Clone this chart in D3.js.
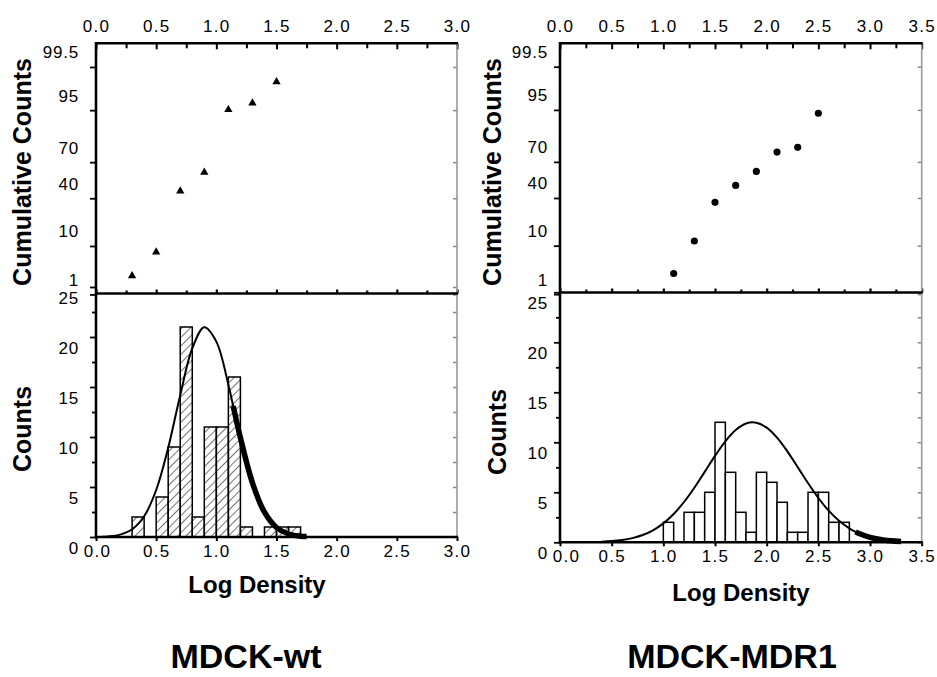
<!DOCTYPE html>
<html>
<head>
<meta charset="utf-8">
<script src="https://cdn.jsdelivr.net/npm/d3@7"></script>
<style>
  body { margin: 0; background: #fff; }
  text { font-family: "Liberation Sans", Arial, sans-serif; fill: #000; }
</style>
</head>
<body>
<script>
// cumulative (probability axis) points
var wtCumX   = [0.3, 0.5, 0.7, 0.9, 1.1, 1.3, 1.5];
var wtCumPct = [2.7, 7.9, 46, 62, 95.1, 96.4, 98.8];
var mdrCumX   = [1.1, 1.3, 1.5, 1.7, 1.9, 2.1, 2.3, 2.5];
var mdrCumPct = [3.0, 11.9, 36.4, 50.7, 62.5, 76.9, 79.9, 94.2];

// histograms, bins 0.1 wide (left edge)
var wtBins   = [0.3, 0.4, 0.5, 0.6, 0.7, 0.8, 0.9, 1.0, 1.1, 1.2, 1.3, 1.4, 1.5, 1.6];
var wtCounts = [2, 0, 4, 9, 21, 2, 11, 11, 16, 1, 0, 1, 1, 1];
var mdrBins   = [1.0, 1.1, 1.2, 1.3, 1.4, 1.5, 1.6, 1.7, 1.8, 1.9, 2.0, 2.1, 2.2, 2.3, 2.4, 2.5, 2.6, 2.7];
var mdrCounts = [2, 0, 3, 3, 5, 12, 7, 3, 1, 7, 6, 4, 1, 1, 5, 5, 2, 2];

// fitted curves
var wtFitX = [0.05, 0.1, 0.2, 0.3, 0.4, 0.5, 0.6, 0.7, 0.8, 0.9, 1.0, 1.1, 1.14, 1.2, 1.3, 1.4, 1.5, 1.6, 1.7, 1.75];
var wtFitY = [0.03, 0.06, 0.24, 0.77, 2.07, 4.70, 8.93, 14.18, 18.86, 20.98, 19.54, 15.23, 13.1, 9.93, 5.42, 2.48, 0.95, 0.30, 0.08, 0.04];
var wtThickFrom = 1.14;
var mdrFitX = [0.4, 0.5, 0.6, 0.7, 0.8, 0.9, 1.0, 1.1, 1.2, 1.3, 1.4, 1.5, 1.6, 1.7, 1.8, 1.9, 2.0, 2.1, 2.2, 2.3, 2.4, 2.5, 2.6, 2.7, 2.8, 2.86, 2.9, 3.0, 3.1, 3.2, 3.3];
var mdrFitY = [0.06, 0.12, 0.23, 0.42, 0.73, 1.20, 1.89, 2.83, 4.03, 5.46, 7.04, 8.64, 10.09, 11.22, 11.88, 11.96, 11.47, 10.47, 9.10, 7.52, 5.92, 4.43, 3.16, 2.15, 1.39, 1.04, 0.85, 0.50, 0.28, 0.15, 0.07];
var mdrThickFrom = 2.86;

// tick labels
var cumTicks = [1, 10, 40, 70, 95, 99.5];
var cumTickLabels = ["1", "10", "40", "70", "95", "99.5"];
var countTicks = [0, 5, 10, 15, 20, 25];
var countMinor = [2.5, 7.5, 12.5, 17.5, 22.5];

var titles = ["MDCK-wt", "MDCK-MDR1"];

// inverse normal cdf (Acklam)
function probit(p) {
  var a = [-3.969683028665376e+01, 2.209460984245205e+02, -2.759285104469687e+02, 1.383577518672690e+02, -3.066479806614716e+01, 2.506628277459239e+00];
  var b = [-5.447609879822406e+01, 1.615858368580409e+02, -1.556989798598866e+02, 6.680131188771972e+01, -1.328068155288572e+01];
  var c = [-7.784894002430293e-03, -3.223964580411365e-01, -2.400758277161838e+00, -2.549671348529103e+00, 4.374664141464968e+00, 2.938163982698783e+00];
  var d = [7.784695709041462e-03, 3.224671290700398e-01, 2.445134137142996e+00, 3.754408661907416e+00];
  var q, r;
  if (p < 0.02425) {
    q = Math.sqrt(-2 * Math.log(p));
    return (((((c[0]*q+c[1])*q+c[2])*q+c[3])*q+c[4])*q+c[5]) / ((((d[0]*q+d[1])*q+d[2])*q+d[3])*q+1);
  }
  if (p > 1 - 0.02425) {
    q = Math.sqrt(-2 * Math.log(1 - p));
    return -(((((c[0]*q+c[1])*q+c[2])*q+c[3])*q+c[4])*q+c[5]) / ((((d[0]*q+d[1])*q+d[2])*q+d[3])*q+1);
  }
  q = p - 0.5; r = q * q;
  return (((((a[0]*r+a[1])*r+a[2])*r+a[3])*r+a[4])*r+a[5])*q / (((((b[0]*r+b[1])*r+b[2])*r+b[3])*r+b[4])*r+1);
}

var svg = d3.select("body").append("svg")
    .attr("width", 937)
    .attr("height", 677);

var defs = svg.append("defs");
defs.append("pattern")
    .attr("id", "hatch")
    .attr("patternUnits", "userSpaceOnUse")
    .attr("width", 6)
    .attr("height", 6)
    .attr("patternTransform", "rotate(45)")
  .append("line")
    .attr("x1", 0).attr("y1", 0)
    .attr("x2", 0).attr("y2", 6)
    .attr("stroke", "#000")
    .attr("stroke-width", 1.1);

function styleAxis(sel, color, w) {
  sel.select(".domain").remove();
  sel.selectAll(".tick line").attr("stroke", color).attr("stroke-width", w);
  sel.selectAll(".tick text").style("font-size", "17px").style("letter-spacing", "1.3px").attr("fill", "#000");
}

function panel(p) {
  var x = d3.scaleLinear().domain([0, p.xMax]).range([p.x0, p.x1]);
  var yc = d3.scaleLinear().domain([p.zBot, p.zTop]).range([p.splitY, p.topY]);
  var yh = d3.scaleLinear().domain([0, 25]).range([p.zeroY, p.y25]);
  var major = d3.range(0, p.xMax + 0.001, 0.5);
  var minor = d3.range(0.25, p.xMax, 0.5);
  var g = svg.append("g");

  // histogram
  var bars = p.bins.map(function(b, i){ return {x: b, n: p.counts[i]}; })
      .filter(function(d){ return d.n > 0; });
  g.selectAll("rect.bar").data(bars).enter().append("rect")
      .attr("class", "bar")
      .attr("x", function(d){ return x(d.x); })
      .attr("width", function(d){ return x(d.x + 0.1) - x(d.x); })
      .attr("y", function(d){ return yh(d.n); })
      .attr("height", function(d){ return yh(0) - yh(d.n); })
      .attr("fill", p.hatch ? "url(#hatch)" : "#fff")
      .attr("stroke", "#000")
      .attr("stroke-width", 1.5);

  // fit curve
  var pts = p.fitX.map(function(v, i){ return [v, p.fitY[i]]; });
  var line = d3.line()
      .x(function(d){ return x(d[0]); })
      .y(function(d){ return yh(d[1]); })
      .curve(d3.curveCatmullRom);
  g.append("path").attr("d", line(pts))
      .attr("fill", "none").attr("stroke", "#000").attr("stroke-width", 2);
  g.append("path").attr("d", line(pts.filter(function(d){ return d[0] >= p.thickFrom; })))
      .attr("fill", "none").attr("stroke", "#000").attr("stroke-width", 5.5);

  // cumulative markers
  var sym = d3.symbol().type(p.marker === "tri" ? d3.symbolTriangle : d3.symbolCircle).size(p.marker === "tri" ? 30 : 40);
  g.selectAll("path.pt").data(p.cumX).enter().append("path")
      .attr("class", "pt")
      .attr("d", sym)
      .attr("transform", function(d, i){ return "translate(" + x(d) + "," + yc(probit(p.cumPct[i] / 100)) + ")"; })
      .attr("fill", "#000");

  // top axis with labels
  var ax = g.append("g").attr("transform", "translate(0," + p.topY + ")")
      .call(d3.axisTop(x).tickValues(major).tickSize(-6).tickPadding(11).tickFormat(d3.format(".1f")));
  styleAxis(ax, "#000", 2);
  ax = g.append("g").attr("transform", "translate(0," + p.topY + ")")
      .call(d3.axisTop(x).tickValues(minor).tickSize(-5).tickFormat(""));
  styleAxis(ax, "#000", 2);

  // ticks on the split line (pointing up)
  ax = g.append("g").attr("transform", "translate(0," + p.splitY + ")")
      .call(d3.axisBottom(x).tickValues(major).tickSize(-4).tickFormat(""));
  styleAxis(ax, "#000", 2.2);
  ax = g.append("g").attr("transform", "translate(0," + p.splitY + ")")
      .call(d3.axisBottom(x).tickValues(minor).tickSize(-3).tickFormat(""));
  styleAxis(ax, "#000", 2.2);

  // bottom axis
  ax = g.append("g").attr("transform", "translate(0," + p.zeroY + ")")
      .call(d3.axisBottom(x).tickValues(major).tickSize(4).tickPadding(4).tickFormat(d3.format(".1f")));
  styleAxis(ax, "#000", 2);
  ax.selectAll(".tick text").attr("dx", function(d){ return d === 0 ? p.xLabelShift : 0; });

  // cumulative y axis
  ax = g.append("g").attr("transform", "translate(" + p.x0 + ",0)")
      .call(d3.axisLeft(yc).tickValues(cumTicks.map(function(v){ return probit(v / 100); }))
        .tickSize(6).tickPadding(p.labelGap - 6)
        .tickFormat(function(d, i){ return cumTickLabels[i]; }));
  styleAxis(ax, "#000", 1.8);
  ax.selectAll(".tick text").attr("dy", -9).style("letter-spacing", "0.8px");
  ax = g.append("g").attr("transform", "translate(" + p.x1 + ",0)")
      .call(d3.axisRight(yc).tickValues(cumTicks.map(function(v){ return probit(v / 100); })).tickSize(-4).tickFormat(""));
  styleAxis(ax, "#888", 1.5);

  // counts y axis
  ax = g.append("g").attr("transform", "translate(" + p.x0 + ",0)")
      .call(d3.axisLeft(yh).tickValues(countTicks).tickSize(6).tickPadding(p.labelGap - 6).tickFormat(d3.format("d")));
  styleAxis(ax, "#000", 1.8);
  ax.selectAll(".tick text").attr("dy", 16.5).style("letter-spacing", "0.8px");
  ax = g.append("g").attr("transform", "translate(" + p.x0 + ",0)")
      .call(d3.axisLeft(yh).tickValues(countMinor).tickSize(4).tickFormat(""));
  styleAxis(ax, "#000", 1.8);
  ax = g.append("g").attr("transform", "translate(" + p.x1 + ",0)")
      .call(d3.axisRight(yh).tickValues(countTicks.concat(countMinor)).tickSize(-4).tickFormat(""));
  styleAxis(ax, "#888", 1.5);

  // frame
  g.append("line").attr("x1", p.x1).attr("x2", p.x1).attr("y1", p.topY).attr("y2", p.zeroY)
      .attr("stroke", "#999").attr("stroke-width", 1.6);
  [p.topY, p.splitY, p.zeroY].forEach(function(yy){
    g.append("line").attr("x1", p.x0).attr("x2", p.x1 + 1).attr("y1", yy).attr("y2", yy)
        .attr("stroke", "#000").attr("stroke-width", 2.6);
  });
  g.append("line").attr("x1", p.x0).attr("x2", p.x0).attr("y1", p.topY - 1.3).attr("y2", p.zeroY + 1.3)
      .attr("stroke", "#000").attr("stroke-width", 2.6);

  // titles
  g.append("text")
      .attr("transform", "translate(" + p.yTitleX + ",172) rotate(-90)")
      .attr("text-anchor", "middle").attr("dy", "0.36em")
      .style("font-size", "25px").style("font-weight", "bold")
      .text("Cumulative Counts");
  g.append("text")
      .attr("transform", "translate(" + (p.yTitleX + p.countsShift) + "," + p.countsY + ") rotate(-90)")
      .attr("text-anchor", "middle").attr("dy", "0.36em")
      .style("font-size", "25px").style("font-weight", "bold")
      .text("Counts");
  g.append("text")
      .attr("x", p.xTitleX).attr("y", p.xTitleY)
      .attr("text-anchor", "middle")
      .style("font-size", "24px").style("font-weight", "bold")
      .text("Log Density");
  g.append("text")
      .attr("x", p.nameX).attr("y", 668)
      .attr("text-anchor", "middle")
      .style("font-size", "34px").style("font-weight", "bold")
      .text(p.name);
}

panel({
  x0: 96, x1: 457, xMax: 3.0,
  topY: 43.3, splitY: 293.5, zeroY: 537, y25: 287,
  zBot: -2.306, zTop: 3.086,
  bins: wtBins, counts: wtCounts, hatch: true,
  fitX: wtFitX, fitY: wtFitY, thickFrom: wtThickFrom,
  cumX: wtCumX, cumPct: wtCumPct, marker: "tri",
  labelGap: 17, xLabelShift: 1,
  yTitleX: 22, countsShift: 0, countsY: 429,
  xTitleX: 257, xTitleY: 593,
  nameX: 246, name: titles[0]
});

panel({
  x0: 560, x1: 921.7, xMax: 3.5,
  topY: 43.3, splitY: 292.5, zeroY: 542.3, y25: 292.3,
  zBot: -2.291, zTop: 3.080,
  bins: mdrBins, counts: mdrCounts, hatch: false,
  fitX: mdrFitX, fitY: mdrFitY, thickFrom: mdrThickFrom,
  cumX: mdrCumX, cumPct: mdrCumPct, marker: "dot",
  labelGap: 12, xLabelShift: 6,
  yTitleX: 492, countsShift: 5, countsY: 432,
  xTitleX: 741, xTitleY: 601,
  nameX: 732, name: titles[1]
});
</script>
</body>
</html>
